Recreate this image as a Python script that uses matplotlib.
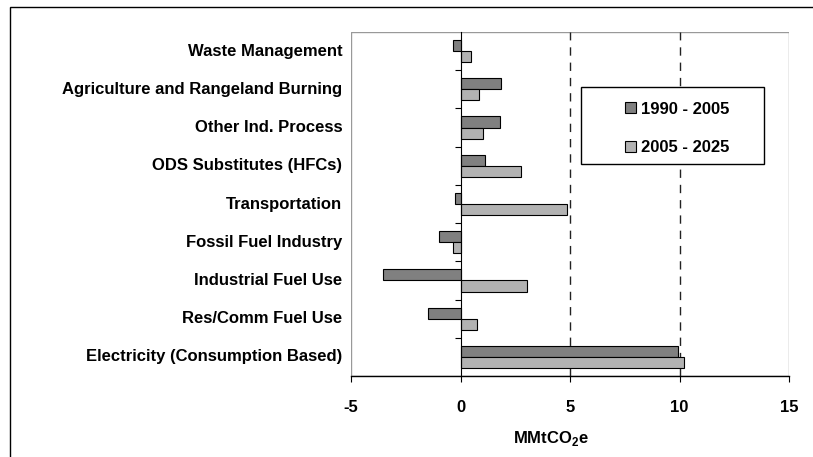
import numpy as np
import matplotlib
matplotlib.use('Agg')
import matplotlib.pyplot as plt
from matplotlib.patches import Rectangle

plt.rcParams['font.family'] = ['Liberation Sans', 'DejaVu Sans']
plt.rcParams['mathtext.fontset'] = 'custom'
plt.rcParams['mathtext.rm'] = 'Liberation Sans:bold'
plt.rcParams['mathtext.bf'] = 'Liberation Sans:bold'

##### data, top to bottom
categories = ['Waste Management', 'Agriculture and Rangeland Burning',
              'Other Ind. Process', 'ODS Substitutes (HFCs)', 'Transportation',
              'Fossil Fuel Industry', 'Industrial Fuel Use', 'Res/Comm Fuel Use',
              'Electricity (Consumption Based)']
val_1990_2005 = [-0.33, 1.87, 1.81, 1.13, -0.27, -1.0, -3.53, -1.49, 9.92]
val_2005_2025 = [0.46, 0.84, 1.03, 2.74, 4.87, -0.32, 3.03, 0.75, 10.2]
series_names = ['1990 - 2005', '2005 - 2025']
x_ticks = [-5, 0, 5, 10, 15]

fs = 12
fig = plt.figure(figsize=(8.13, 4.57), dpi=100)
ax = fig.add_axes([351/813, 1-376/457, 438/813, 344/457])

y = np.arange(len(categories))
h = 0.29
ax.barh(y - h/2, val_1990_2005, height=h, color='#808080', edgecolor='black',
        linewidth=0.8, label=series_names[0], zorder=3)
ax.barh(y + h/2, val_2005_2025, height=h, color='#b2b2b2', edgecolor='black',
        linewidth=0.8, label=series_names[1], zorder=3)

ax.set_xlim(-5, 15)
ax.set_ylim(len(categories) - 0.5, -0.5)

### dashed gridlines at 5 and 10
for gx in [5, 10]:
    ax.axvline(gx, color='#222222', linestyle=(0, (6, 5)), linewidth=1, zorder=1)

### gray plot area frame
ax.add_patch(Rectangle((0, 0), 1, 1, transform=ax.transAxes, fill=False,
                       edgecolor='#999999', linewidth=1, zorder=0.5))

for s in ['top', 'right']:
    ax.spines[s].set_visible(False)
ax.spines['left'].set_position(('data', 0))
ax.spines['left'].set_zorder(4)
ax.spines['bottom'].set_linewidth(1)

ax.set_yticks(np.arange(len(categories) - 1) + 0.5)
ax.set_yticklabels([])
ax.tick_params(axis='y', direction='out', length=4, width=0.8)
ax.set_xticks(x_ticks)
ax.set_xticklabels([str(t) for t in x_ticks], fontsize=fs, fontweight='bold')
ax.tick_params(axis='x', direction='out', length=4, width=0.8, pad=13)

for i, c in enumerate(categories):
    ax.text(-0.02, i, c, transform=ax.get_yaxis_transform(), ha='right',
            va='center', fontsize=fs, fontweight='bold')

ax.set_xlabel('MMtCO$_2$e', fontsize=fs, fontweight='bold')
ax.xaxis.set_label_coords(0.457, -0.155)

### legend with separate box
ax.add_patch(Rectangle((0.525, 0.616), 0.418, 0.224, transform=ax.transAxes,
                       facecolor='white', edgecolor='black', linewidth=1, zorder=5))
leg = ax.legend(loc='center', bbox_to_anchor=(0.745, 0.72), frameon=False,
                prop={'size': fs, 'weight': 'bold'}, handlelength=0.65,
                handleheight=0.65, handletextpad=0.35, labelspacing=1.4)
leg.set_zorder(6)

### outer border
fig.add_artist(Rectangle((10/813, -0.1), 1.1, 1 - 7/457 + 0.1,
                         transform=fig.transFigure, fill=False,
                         edgecolor='black', linewidth=1, clip_on=False))

fig.savefig('out.png', dpi=100)
